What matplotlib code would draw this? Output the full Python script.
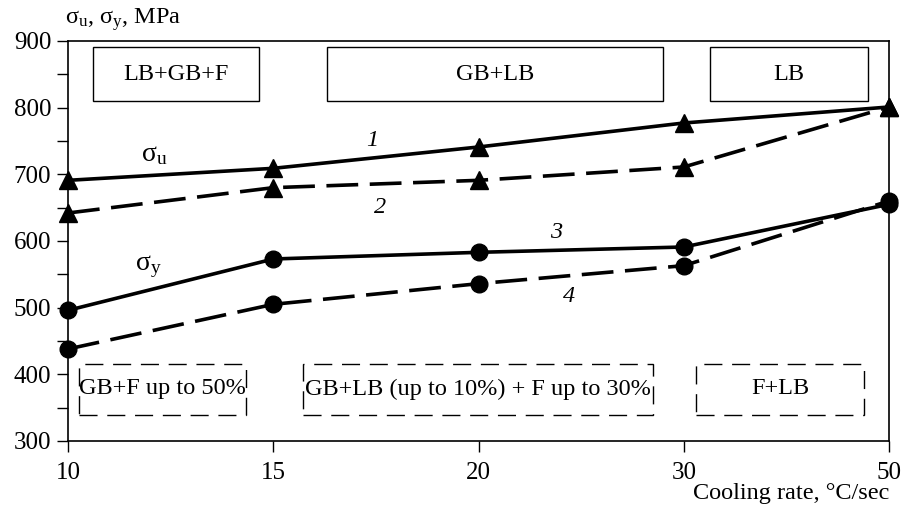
import matplotlib.pyplot as plt
from matplotlib.patches import Rectangle

plt.rcParams['font.family'] = ['Liberation Serif', 'DejaVu Serif']
plt.rcParams['mathtext.fontset'] = 'custom'
plt.rcParams['mathtext.rm'] = 'Liberation Serif'
plt.rcParams['mathtext.it'] = 'Liberation Serif:italic'

# data: cooling rate categories (equally spaced on the chart)
rates = ['10', '15', '20', '30', '50']
sigma_u_1 = [691, 709, 741, 777, 801]   # curve 1, solid
sigma_u_2 = [642, 680, 691, 711, 801]   # curve 2, dashed
sigma_y_3 = [496, 573, 583, 591, 655]   # curve 3, solid
sigma_y_4 = [438, 505, 536, 563, 660]   # curve 4, dashed

top_boxes = ['LB+GB+F', 'GB+LB', 'LB']
bottom_boxes = ['GB+F up to 50%', 'GB+LB (up to 10%) + F up to 30%', 'F+LB']

fig = plt.figure(figsize=(9.01, 5.08), dpi=100)
ax = fig.add_axes([0.0755, 0.1319, 0.9112, 0.7874])

xs = list(range(len(rates)))
lw = 2.6
dash = (8.8, 3.2)
ax.plot(xs, sigma_u_1, color='black', lw=lw, marker='^', ms=13, clip_on=False, zorder=3)
ax.plot(xs, sigma_u_2, color='black', lw=lw, marker='^', ms=13, dashes=dash, clip_on=False, zorder=3)
ax.plot(xs, sigma_y_3, color='black', lw=lw, marker='o', ms=12, clip_on=False, zorder=3)
ax.plot(xs, sigma_y_4, color='black', lw=lw, marker='o', ms=12, dashes=dash, clip_on=False, zorder=3)

ax.set_xlim(0, len(rates) - 1)
ax.set_ylim(300, 900)
ax.set_xticks(xs)
ax.set_xticklabels(rates)
ax.set_yticks(range(300, 901, 100))
ax.set_yticks(range(350, 900, 100), minor=True)
ax.tick_params(axis='both', direction='out', length=8, width=1, labelsize=18, pad=4)
ax.tick_params(axis='y', which='minor', direction='out', length=8, width=1)
ax.tick_params(axis='x', pad=7)
for s in ax.spines.values():
    s.set_linewidth(1.2)

fs = 17.5
# phase boxes (axes fraction)
top_pos = [(0.030, 0.233), (0.315, 0.725), (0.782, 0.974)]
for (x0, x1), txt in zip(top_pos, top_boxes):
    ax.add_patch(Rectangle((x0, 0.85), x1 - x0, 0.135, transform=ax.transAxes,
                           fill=False, lw=1.0, ec='black'))
    ax.text((x0 + x1) / 2, 0.917, txt, transform=ax.transAxes, ha='center',
            va='center', fontsize=fs)

bot_pos = [(0.013, 0.217), (0.286, 0.713), (0.765, 0.970)]
for (x0, x1), txt in zip(bot_pos, bottom_boxes):
    ax.add_patch(Rectangle((x0, 0.065), x1 - x0, 0.128, transform=ax.transAxes,
                           fill=False, lw=1.0, ec='black', linestyle=(0, (13, 7))))
    ax.text((x0 + x1) / 2, 0.130, txt, transform=ax.transAxes, ha='center',
            va='center', fontsize=fs)

# curve labels
ax.text(1.48, 751, '1', style='italic', fontsize=fs, ha='center', va='center')
ax.text(1.52, 650, '2', style='italic', fontsize=fs, ha='center', va='center')
ax.text(2.38, 613, '3', style='italic', fontsize=fs, ha='center', va='center')
ax.text(2.44, 516, '4', style='italic', fontsize=fs, ha='center', va='center')
ax.text(0.42, 730, r'$\mathrm{\sigma}_{\mathrm{u}}$', fontsize=20, ha='center', va='center')
ax.text(0.39, 562, r'$\mathrm{\sigma}_{\mathrm{y}}$', fontsize=20, ha='center', va='center')

fig.text(0.072, 0.962, r'$\mathrm{\sigma}_{\mathrm{u}}$, $\mathrm{\sigma}_{\mathrm{y}}$, MPa',
         fontsize=17.5, ha='left', va='center')
fig.text(0.987, 0.028, 'Cooling rate, °C/sec', fontsize=17.5, ha='right', va='center')

fig.savefig('out.png', dpi=100)
